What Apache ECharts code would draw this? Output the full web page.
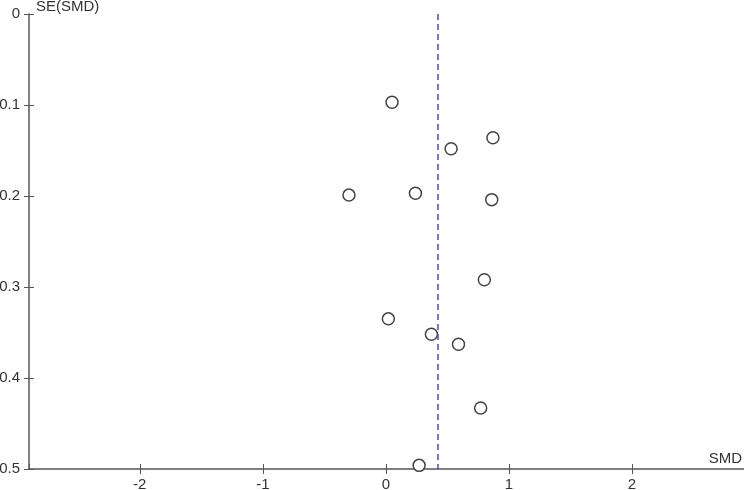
<!DOCTYPE html>
<html>
<head>
<meta charset="utf-8">
<script src="https://cdn.jsdelivr.net/npm/echarts@6/dist/echarts.min.js"></script>
<style>
  html, body { margin: 0; padding: 0; background: #fff; }
  #main { width: 744px; height: 490px; }
</style>
</head>
<body>
<div id="main"></div>
<script>
// study estimates
var smd = [0.05, 0.87, 0.53, -0.30, 0.24, 0.86, 0.80, 0.02, 0.37, 0.59, 0.77, 0.27];
var seSmd = [0.097, 0.136, 0.148, 0.199, 0.197, 0.204, 0.292, 0.335, 0.352, 0.363, 0.433, 0.496];
var pooled = 0.42;

var points = smd.map(function (x, i) { return [x, seSmd[i]]; });

var chart = echarts.init(document.getElementById('main'));
var textColor = '#333';
var lineColor = '#555';
var font = 'Liberation Sans, Arial, sans-serif';
var fontSize = 15;

var option = {
  backgroundColor: '#fff',
  animation: false,
  grid: { left: 29, top: 14, right: 0, bottom: 21, containLabel: false, outerBoundsMode: 'none' },
  xAxis: [{
    type: 'value',
    min: -2.9,
    max: 2.91,
    splitNumber: 5,
    name: 'SMD',
    nameLocation: 'end',
    nameGap: -2,
    nameTextStyle: { color: textColor, fontSize: fontSize, fontFamily: font, align: 'right', verticalAlign: 'bottom', padding: [0, 0, 3, 0] },
    axisLine: { show: true, onZero: false, lineStyle: { color: lineColor, width: 1.5 } },
    axisTick: { show: true, length: 5, lineStyle: { color: lineColor } },
    axisLabel: {
      color: textColor, fontSize: fontSize, fontFamily: font, margin: 8,
      showMinLabel: false, showMaxLabel: false,
      formatter: function (v) { return Number.isInteger(v) ? String(v) : ''; }
    },
    splitLine: { show: false }
  }, {
    type: 'value',
    position: 'bottom',
    min: -2.9,
    max: 2.91,
    splitNumber: 5,
    axisLine: { show: false, onZero: false },
    axisTick: { show: true, inside: true, length: 5, lineStyle: { color: lineColor } },
    axisLabel: { show: false },
    splitLine: { show: false }
  }],
  yAxis: [{
    type: 'value',
    inverse: true,
    min: 0,
    max: 0.5,
    interval: 0.1,
    name: 'SE(SMD)',
    nameLocation: 'start',
    nameGap: 0,
    nameTextStyle: { color: textColor, fontSize: fontSize, fontFamily: font, align: 'left', padding: [0, 0, 0, 7] },
    axisLine: { show: true, onZero: false, lineStyle: { color: lineColor, width: 1.5 } },
    axisTick: { show: true, length: 5, lineStyle: { color: lineColor } },
    axisLabel: { color: textColor, fontSize: fontSize, fontFamily: font, margin: 9, padding: [5, 0, 0, 0] },
    splitLine: { show: false }
  }, {
    type: 'value',
    inverse: true,
    min: 0,
    max: 0.5,
    interval: 0.1,
    position: 'left',
    axisLine: { show: false, onZero: false },
    axisTick: { show: true, inside: true, length: 5, lineStyle: { color: lineColor } },
    axisLabel: { show: false },
    splitLine: { show: false }
  }],
  series: [{
    type: 'scatter',
    data: points,
    symbol: 'circle',
    symbolSize: 12,
    itemStyle: { color: '#fff', borderColor: '#444', borderWidth: 1.5, opacity: 1 },
    markLine: {
      silent: true,
      symbol: 'none',
      label: { show: false },
      lineStyle: { color: '#4b4bc0', type: [6, 4], width: 1.5 },
      data: [{ xAxis: pooled }]
    }
  }]
};

chart.setOption(option);
</script>
</body>
</html>
